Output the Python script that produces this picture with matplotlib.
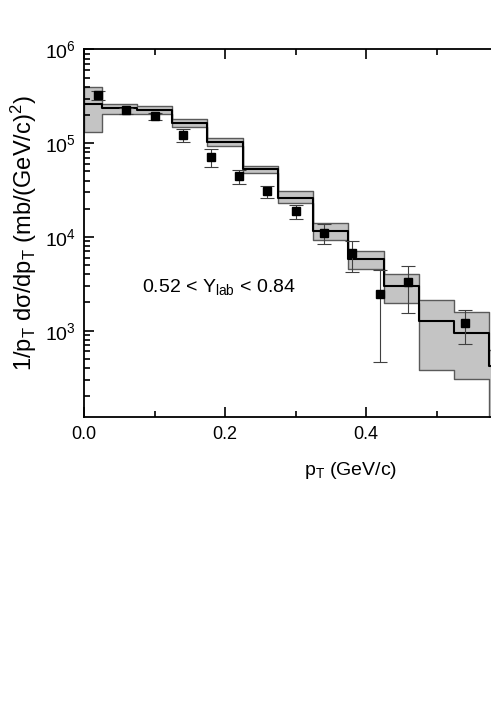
import numpy as np
import matplotlib
matplotlib.use("Agg")
import matplotlib.pyplot as plt
from matplotlib.ticker import LogLocator, MultipleLocator, NullFormatter, FormatStrFormatter

plt.rcParams["font.family"] = ["Liberation Sans", "DejaVu Sans"]
plt.rcParams["mathtext.fontset"] = "custom"
plt.rcParams["mathtext.rm"] = "Liberation Sans"
plt.rcParams["mathtext.it"] = "Liberation Sans"

# model histogram (bin edges, central value, band limits)
bin_edges = [0.0, 0.025, 0.075, 0.125, 0.175, 0.225, 0.275, 0.325,
             0.375, 0.425, 0.475, 0.525, 0.575, 0.625]
model_mid = [2.62e5, 2.38e5, 2.25e5, 1.63e5, 1.04e5, 5.26e4, 2.63e4,
             1.16e4, 5.78e3, 3.02e3, 1.28e3, 945, 417]
model_hi = [3.95e5, 2.65e5, 2.50e5, 1.80e5, 1.15e5, 5.76e4, 3.08e4,
            1.42e4, 7.12e3, 4.0e3, 2.14e3, 1.58e3, 627]
model_lo = [1.31e5, 2.07e5, 2.05e5, 1.50e5, 9.4e4, 4.77e4, 2.29e4,
            9.2e3, 4.55e3, 1.99e3, 378, 306, 90]

# measured points
pt = [0.02, 0.06, 0.10, 0.14, 0.18, 0.22, 0.26, 0.30, 0.34, 0.38, 0.42, 0.46, 0.54]
yval = [3.27e5, 2.27e5, 1.95e5, 1.22e5, 7.1e4, 4.49e4, 3.08e4, 1.9e4,
        1.10e4, 6.7e3, 2.48e3, 3.27e3, 1.22e3]
ylow = [2.87e5, 2.03e5, 1.76e5, 1.02e5, 5.6e4, 3.64e4, 2.63e4, 1.57e4,
        8.4e3, 4.28e3, 460, 1.53e3, 720]
yhigh = [3.6e5, 2.40e5, 2.12e5, 1.41e5, 8.7e4, 5.2e4, 3.5e4, 2.21e4,
         1.38e4, 9.0e3, 4.46e3, 4.9e3, 1.67e3]

fig = plt.figure(figsize=(4.91, 7.06), dpi=100)
ax = fig.add_axes([0.1711, 0.4098, 0.755 * 705 / 491, 0.5201])

edges = np.array(bin_edges)
hi = np.append(model_hi, model_hi[-1])
lo = np.append(model_lo, model_lo[-1])
mid = np.append(model_mid, model_mid[-1])

ax.fill_between(edges, lo, hi, step="post", facecolor="#c4c4c4",
                edgecolor="#5a5a5a", linewidth=1.0, zorder=1)
ax.step(edges, mid, where="post", color="black", linewidth=1.5, zorder=2)

y = np.array(yval)
yerr = [y - np.array(ylow), np.array(yhigh) - y]
ax.errorbar(pt, y, yerr=yerr, fmt="s", color="black", ms=6,
            ecolor="#404040", elinewidth=0.8, capsize=5, capthick=0.8, zorder=3)

ax.set_yscale("log")
ax.set_xlim(0, 0.755)
ax.set_ylim(121, 1e6)

ax.set_xticks([0.0, 0.2, 0.4])
ax.xaxis.set_minor_locator(MultipleLocator(0.1))
ax.xaxis.set_major_formatter(FormatStrFormatter("%.1f"))
ax.yaxis.set_major_locator(LogLocator(base=10))
ax.yaxis.set_minor_locator(LogLocator(base=10, subs=np.arange(2, 10)))
ax.yaxis.set_minor_formatter(NullFormatter())

ax.tick_params(which="both", direction="in", top=True, right=False, width=1.2)
ax.tick_params(which="major", length=7)
ax.tick_params(which="minor", length=4)
ax.tick_params(axis="x", labelsize=13, pad=7)
ax.tick_params(axis="y", labelsize=14, pad=6)
for s in ax.spines.values():
    s.set_linewidth(1.3)

ax.set_xlabel(r"p$_\mathregular{T}$ (GeV/c)", fontsize=14, labelpad=12)
ax.set_ylabel(r"1/p$_\mathregular{T}$ d$\sigma$/dp$_\mathregular{T}$ (mb/(GeV/c)$^\mathregular{2}$)",
              fontsize=17, labelpad=4)
ax.text(0.0823, 2.6e3, r"0.52 < Y$_\mathregular{lab}$ < 0.84", fontsize=14,
        va="baseline", ha="left")

fig.savefig("out.png", dpi=100)
